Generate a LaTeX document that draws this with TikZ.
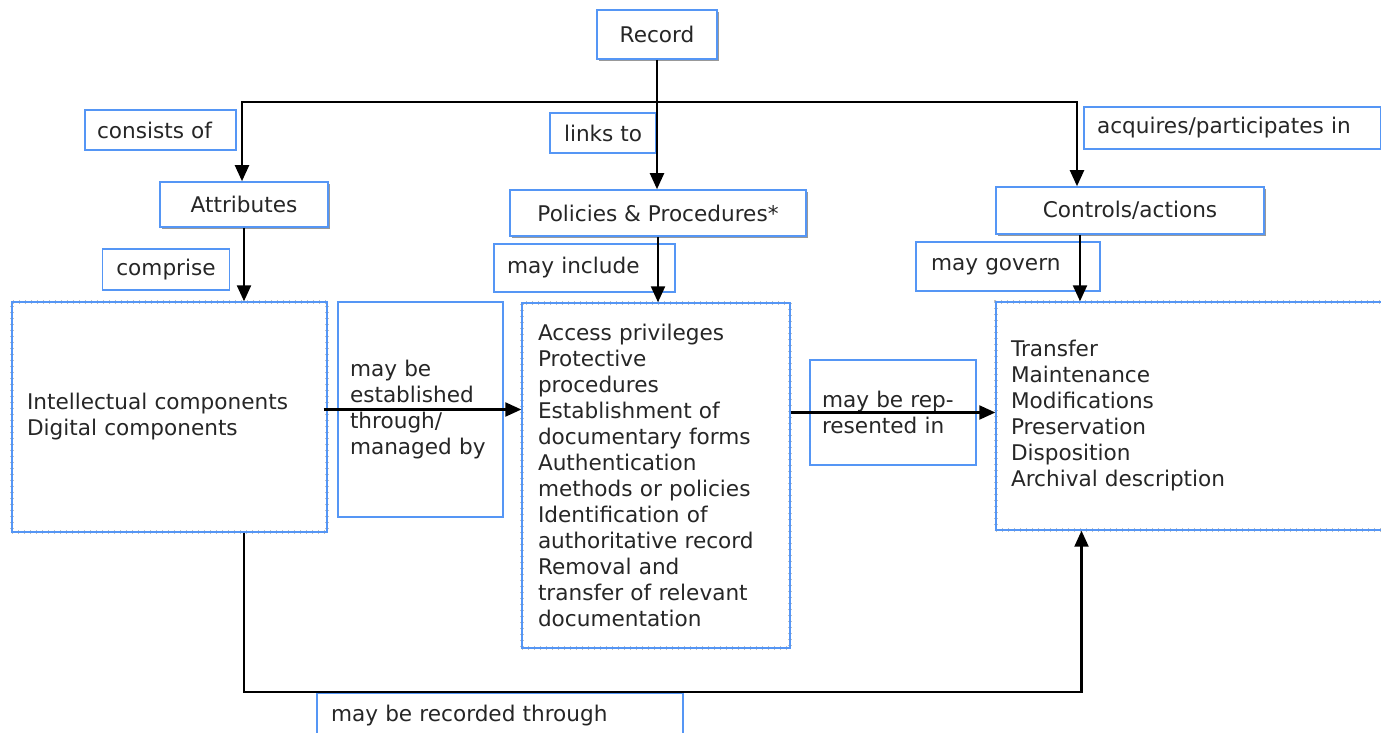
\documentclass[tikz,border=0pt]{standalone}
\usepackage{fontspec}
\setmainfont{DejaVu Sans}
\usepackage{xcolor}
\usepackage{tikz}
\usetikzlibrary{arrows.meta,shadows}
\definecolor{boxblue}{RGB}{85,150,245}

\begin{document}
\begin{tikzpicture}[x=0.5pt, y=-0.5pt, line width=1.1pt,
    every node/.style={font=\fontsize{10.8}{13}\selectfont, text=black!85, inner xsep=7pt, inner ysep=0pt},
    mainbox/.style={draw=boxblue, fill=white, line width=0.8pt,
        drop shadow={shadow xshift=0.9pt, shadow yshift=-0.9pt, fill=gray!80, opacity=1}},
    lbl/.style={draw=boxblue, line width=0.8pt, align=left},
    listbox/.style={draw=boxblue, line width=0.7pt, align=left,
        preaction={draw=gray!50, line width=1.8pt, dash pattern=on 0.5pt off 2.5pt}},
    conn/.style={-{Triangle[length=8pt,width=7pt]}}]
    \useasboundingbox (0,0) rectangle (1381,733);

    \node[mainbox, minimum width=60pt, minimum height=24.5pt] (rec) at (657,34.5) {Record};
    \node[mainbox, minimum width=84pt, minimum height=22.5pt] (attr) at (244,204.5) {Attributes};
    \node[mainbox, minimum width=148pt, minimum height=23pt] (pol) at (658,213) {Policies \& Procedures*};
    \node[mainbox, minimum width=134pt, minimum height=23.5pt] (ctl) at (1130,210.5) {Controls/actions};

    \node[lbl, inner xsep=6pt, text width=63.5pt, minimum height=20pt] (consists) at (160.5,130) {consists of};
    \node[lbl, minimum width=52pt, minimum height=20pt] (links) at (603,133) {links to};
    \node[lbl, inner xsep=6.5pt, text width=135.5pt, minimum height=21pt] (acq) at (1232.5,128) {acquires/participates in};
    \node[lbl, minimum width=63pt, minimum height=20.5pt] (compr) at (166,269.5) {comprise};
    \node[lbl, inner xsep=6.5pt, text width=77.5pt, minimum height=24pt] (mayinc) at (584.5,268) {may include};
    \node[lbl, inner xsep=7.5pt, text width=77pt, minimum height=24.5pt] (maygov) at (1008,266.5) {may govern};

    \node[listbox, inner xsep=7.5pt, text width=142.5pt, minimum height=115pt] (intel) at (169.5,417)
        {Intellectual components\\Digital components};
    \node[lbl, inner xsep=6pt, text width=70.5pt, minimum height=107.5pt] (estab) at (420.5,409.5)
        {may be\\established\\through/\\managed by};
    \node[listbox, inner xsep=8pt, text width=118pt, minimum height=172.5pt] (access) at (656,475.5)
        {Access privileges\\Protective\\procedures\\Establishment of\\documentary forms\\Authentication\\methods or policies\\Identification of\\authoritative record\\Removal and\\transfer of relevant\\documentation};
    \node[lbl, inner xsep=6pt, text width=71pt, minimum height=52.5pt] (repr) at (893,412.5)
        {may be rep-\\resented in};
    \node[listbox, inner xsep=7.5pt, text width=178.5pt, minimum height=114pt] (trans) at (1189.5,416)
        {Transfer\\Maintenance\\Modifications\\Preservation\\Disposition\\Archival description};
    \node[lbl, inner xsep=7pt, text width=169pt, minimum height=23pt] (recorded) at (500,716) {may be recorded through};

    \coordinate (bus) at (657,102);
    \draw[conn] (rec.south) -- (rec.south |- pol.north);
    \draw[conn] (bus) -| ([xshift=-1pt]attr.north);
    \draw[conn] (bus) -| ([xshift=-26.5pt]ctl.north);
    \draw[conn] (attr.south) -- (attr.south |- intel.north);
    \draw[conn] (pol.south) -- (pol.south |- access.north);
    \draw[conn] ([xshift=-25pt]ctl.south) -- ([xshift=-25pt]ctl.south |- trans.north);
    \draw[conn] ([xshift=-2pt]intel.east |- estab) -- (access.west |- estab);
    \draw[conn] (access.east |- repr) -- (trans.west |- repr);
    \draw[conn] (attr.south |- intel.south) |- (recorded.north) -| ([xshift=-54pt]trans.south);
\end{tikzpicture}
\end{document}
